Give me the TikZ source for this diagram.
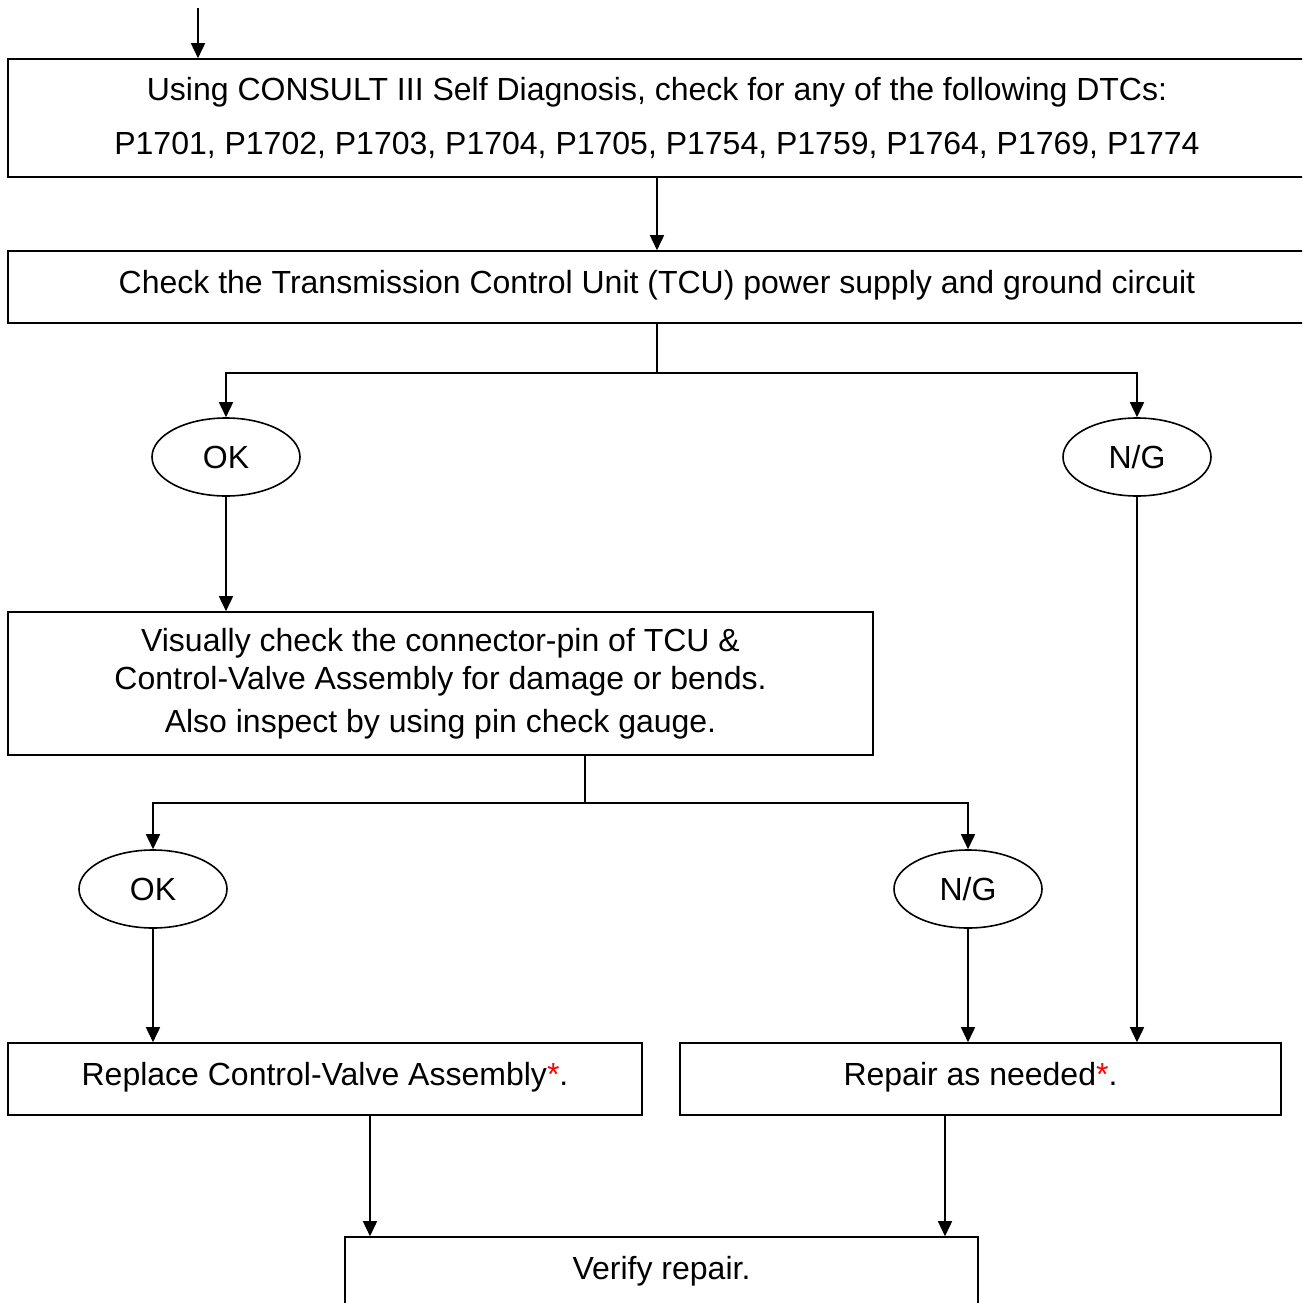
\documentclass[tikz,border=0pt]{standalone}
\usepackage{fontspec}
\setmainfont{Liberation Sans}
\usetikzlibrary{shapes.geometric, arrows.meta}

\begin{document}
\begin{tikzpicture}[x=1pt, y=-1pt, line width=1.6pt,
    font=\fontsize{32}{38}\selectfont,
    box/.style={draw, rectangle, align=center, inner sep=0pt},
    answer/.style={draw, ellipse, minimum width=148pt, minimum height=78pt, inner sep=0pt},
    arr/.style={-{Triangle[length=15pt, width=14pt]}}]
    \useasboundingbox (0,0) rectangle (1302,1303);
    \clip (0,0) rectangle (1302,1303);

    % steps
    \node[box, minimum width=1298pt, minimum height=118pt] (dtc) at (657,118)
        {Using CONSULT III Self Diagnosis, check for any of the following DTCs:\\[16pt]
         P1701, P1702, P1703, P1704, P1705, P1754, P1759, P1764, P1769, P1774};
    \node[box, minimum width=1298pt, minimum height=72pt, text height=24pt, text depth=12pt] (power) at (657,287)
        {Check the Transmission Control Unit (TCU) power supply and ground circuit};
    \node[box, minimum width=865pt, minimum height=143pt] (pins) at (440.5,683.5)
        {Visually check the connector-pin of TCU \&\\
         Control-Valve Assembly for damage or bends.\\[5pt]
         Also inspect by using pin check gauge.};
    \node[box, minimum width=634pt, minimum height=72pt, text height=24pt, text depth=12pt] (valve) at (325,1079)
        {Replace Control-Valve Assembly\textcolor{red}{*}.};
    \node[box, minimum width=601pt, minimum height=72pt, text height=24pt, text depth=12pt] (fix) at (980.5,1079)
        {Repair as needed\textcolor{red}{*}.};
    \node[box, minimum width=633pt, minimum height=72pt, text height=24pt, text depth=12pt] (verify) at (661.5,1273)
        {Verify repair.};

    % answers
    \node[answer] (okA) at (226,457) {OK};
    \node[answer] (ngA) at (1137,457) {N/G};
    \node[answer] (okB) at (153,889) {OK};
    \node[answer] (ngB) at (968,889) {N/G};

    \coordinate (start) at (198,8);
    \draw[arr] (start) -- (start |- dtc.north);
    \draw[arr] (dtc) -- (power);

    \draw (power.south) -- ++(0,49) coordinate (splitA);
    \draw[arr] (splitA) -| (okA);
    \draw[arr] (splitA) -| (ngA);
    \draw[arr] (okA) -- (pins.north -| okA);

    \draw (pins.south -| 585,0) -- ++(0,47) coordinate (splitB);
    \draw[arr] (splitB) -| (okB);
    \draw[arr] (splitB) -| (ngB);

    \draw[arr] (okB) -- (okB |- valve.north);
    \draw[arr] (ngB) -- (ngB |- fix.north);
    \draw[arr] (ngA) -- (ngA |- fix.north);

    \draw[arr] (valve.south -| 370,0) -- (verify.north -| 370,0);
    \draw[arr] (fix.south -| 945,0) -- (verify.north -| 945,0);
\end{tikzpicture}
\end{document}
